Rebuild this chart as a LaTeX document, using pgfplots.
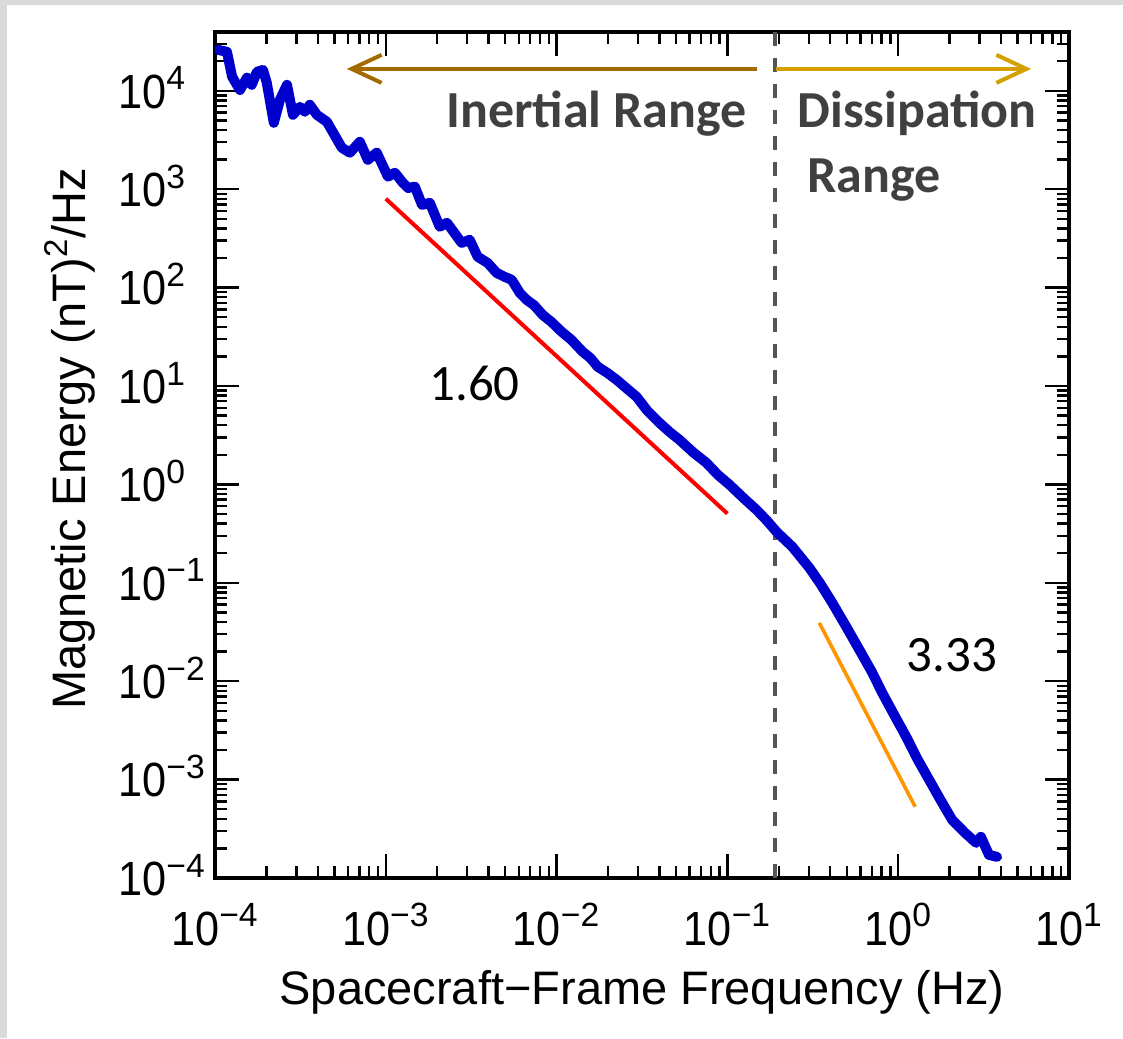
\documentclass[border=0pt]{standalone}
\usepackage{pgfplots}
\pgfplotsset{compat=1.18}
\usepackage{fontspec}
\setmainfont{Liberation Sans}
\newfontfamily\carl{Carlito}
\usetikzlibrary{arrows.meta}
\definecolor{curveblue}{RGB}{0,0,205}
\definecolor{framegray}{RGB}{218,218,218}
\definecolor{arrowbrown}{RGB}{163,106,0}
\definecolor{arrowgold}{RGB}{212,160,0}
\definecolor{txtgray}{RGB}{64,64,64}
\definecolor{dashgray}{RGB}{85,85,85}
\definecolor{slopeorange}{RGB}{255,150,0}
\newcommand\tp[1]{\scalebox{0.9}[1]{10}\textsuperscript{#1}}
\begin{document}
\begin{tikzpicture}
\path[use as bounding box] (-107.5pt,-80pt) rectangle (454pt,439pt);
\fill[framegray] (-107.5pt,436.5pt) rectangle (454pt,439pt);
\fill[framegray] (-107.5pt,-80pt) rectangle (-104pt,439pt);
\begin{axis}[
  at={(0,0)}, anchor=south west,
  scale only axis, width=427pt, height=423pt,
  xmode=log, ymode=log,
  xmin=1e-4, xmax=1e1, ymin=1e-4, ymax=3.96e4,
  axis line style={line width=1.6pt},
  every tick/.style={black, line width=1.2pt},
  major tick length=12pt, minor tick length=6pt,
  tick align=inside,
  xtick={1e-4,1e-3,1e-2,1e-1,1,10},
  xticklabels={\tp{−4},\tp{−3},\tp{−2},\tp{−1},\tp{0},\tp{1}},
  minor xtick={2e-4,3e-4,4e-4,5e-4,6e-4,7e-4,8e-4,9e-4,
    2e-3,3e-3,4e-3,5e-3,6e-3,7e-3,8e-3,9e-3,
    2e-2,3e-2,4e-2,5e-2,6e-2,7e-2,8e-2,9e-2,
    0.2,0.3,0.4,0.5,0.6,0.7,0.8,0.9,
    2,3,4,5,6,7,8,9},
  ytick={1e-4,1e-3,1e-2,1e-1,1,10,100,1000,10000},
  yticklabels={\tp{−4},\tp{−3},\tp{−2},\tp{−1},\tp{0},\tp{1},\tp{2},\tp{3},\tp{4}},
  minor ytick={2e-4,3e-4,4e-4,5e-4,6e-4,7e-4,8e-4,9e-4,
    2e-3,3e-3,4e-3,5e-3,6e-3,7e-3,8e-3,9e-3,
    2e-2,3e-2,4e-2,5e-2,6e-2,7e-2,8e-2,9e-2,
    0.2,0.3,0.4,0.5,0.6,0.7,0.8,0.9,
    2,3,4,5,6,7,8,9,
    20,30,40,50,60,70,80,90,
    200,300,400,500,600,700,800,900,
    2000,3000,4000,5000,6000,7000,8000,9000,
    20000,30000},
  tick label style={font=\fontsize{24}{24}\selectfont},
  yticklabel style={anchor=base west, xshift=-48.5pt, yshift=-8.6pt, inner sep=0pt},
  xticklabel style={anchor=base, yshift=-33.5pt, inner sep=0pt},
  xlabel={Spacecraft−Frame Frequency (Hz)},
  ylabel={Magnetic Energy (nT)\textsuperscript{2}/Hz},
  label style={font=\fontsize{23.5}{24}\selectfont},
  xlabel style={at={(axis description cs:0.5,-0.150)}, anchor=base},
  ylabel style={at={(axis description cs:-0.152,0.519)}, anchor=base},
]
\addplot[dashgray, line width=2pt, dash pattern=on 7pt off 6pt] coordinates {(0.19,1e-4) (0.19,3.96e4)};
\addplot[red, line width=2pt] coordinates {(1e-3,800) (0.1,0.505)};
\addplot[slopeorange, line width=1.8pt] coordinates {(0.345,0.0392) (1.257,5.3e-4)};
\addplot[curveblue, line width=5pt, line join=round, line cap=round] coordinates {
(1.04e-4,2.61e4) (1.175e-4,2.49e4) (1.26e-4,1.39e4) (1.40e-4,1.02e4) (1.54e-4,1.36e4)
(1.64e-4,1.15e4) (1.76e-4,1.56e4) (1.91e-4,1.63e4) (2.01e-4,1.21e4) (2.21e-4,4.73e3)
(2.40e-4,8.1e3) (2.64e-4,1.15e4) (2.86e-4,5.70e3) (3.14e-4,6.87e3) (3.36e-4,6.12e3)
(3.59e-4,7.21e3) (3.95e-4,5.70e3) (4.52e-4,4.84e3) (5.53e-4,2.64e3) (6.16e-4,2.35e3)
(7.05e-4,3.03e3) (7.85e-4,1.99e3) (8.85e-4,2.35e3) (1.03e-3,1.34e3) (1.13e-3,1.47e3)
(1.26e-3,1.16e3) (1.35e-3,1.03e3) (1.48e-3,1.06e3) (1.63e-3,693) (1.81e-3,727)
(2.07e-3,415) (2.28e-3,456) (2.78e-3,285) (3.10e-3,306) (3.45e-3,206)
(3.95e-3,178) (4.46e-3,141) (5.00e-3,128) (5.46e-3,120) (6.10e-3,88) (6.68e-3,75.1)
(7.40e-3,66) (8.28e-3,52.9) (9.30e-3,45) (1.07e-2,35.6) (1.22e-2,29.5)
(1.42e-2,22.3) (1.58e-2,19.2) (1.74e-2,15.7) (1.98e-2,13.6) (2.24e-2,11.6) (2.60e-2,9.3) (2.94e-2,7.77)
(3.40e-2,5.6) (4.00e-2,4.23) (4.60e-2,3.4) (5.24e-2,2.84) (6.30e-2,2.12)
(7.53e-2,1.66) (8.80e-2,1.25) (0.103,0.991) (0.125,0.72) (0.148,0.552) (0.170,0.43) (0.194,0.330)
(0.240,0.232) (0.302,0.142) (0.350,0.098) (0.411,0.0627) (0.50,0.035) (0.592,0.0209) (0.70,0.0125) (0.806,7.62e-3)
(0.95,4.5e-3) (1.114,2.72e-3) (1.30,1.6e-3) (1.518,9.95e-4) (1.78,6.1e-4) (2.07,3.90e-4) (2.45,2.9e-4) (2.86,2.28e-4) (3.05,2.62e-4)
(3.40,1.72e-4) (3.79,1.64e-4)};
\draw[arrowbrown, line width=2pt, -{Straight Barb[length=15pt,width=14pt]}] (axis cs:0.1496,1.67e4) -- (axis cs:5.92e-4,1.67e4);
\draw[arrowgold, line width=2pt, -{Straight Barb[length=15pt,width=14pt]}] (axis cs:0.1936,1.67e4) -- (axis cs:6.0,1.67e4);
\node[anchor=base, txtgray, font=\carl\bfseries\fontsize{26}{26}\selectfont, inner sep=0pt] at (axis cs:1.714e-2,4.21e3) {Inertial Range};
\node[anchor=base, txtgray, font=\carl\bfseries\fontsize{26}{26}\selectfont, inner sep=0pt] at (axis cs:1.291,4.21e3) {Dissipation};
\node[anchor=base, txtgray, font=\carl\bfseries\fontsize{26}{26}\selectfont, inner sep=0pt] at (axis cs:0.7244,918) {Range};
\node[anchor=base, font=\carl\fontsize{25.5}{26}\selectfont, inner sep=0pt] at (axis cs:3.31e-3,7.13) {1.60};
\node[anchor=base, font=\carl\fontsize{25.5}{26}\selectfont, inner sep=0pt] at (axis cs:2.07,1.256e-2) {3.33};
\end{axis}
\end{tikzpicture}
\end{document}
